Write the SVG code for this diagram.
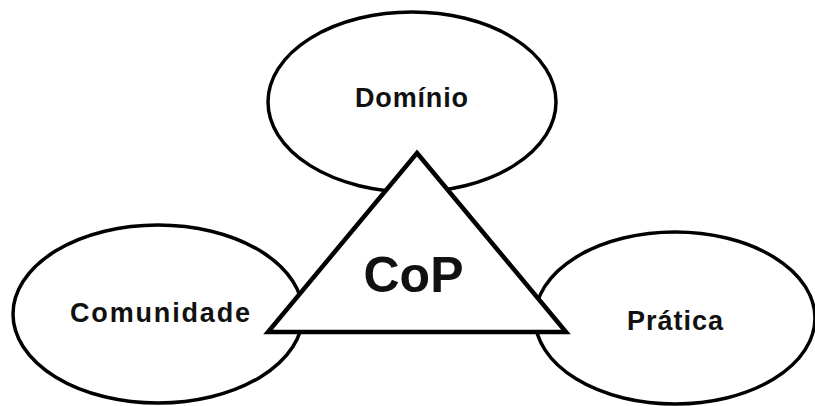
<svg xmlns="http://www.w3.org/2000/svg" width="815" height="406" viewBox="0 0 815 406">
<style>
.e{fill:#fff;stroke:#000;stroke-width:3.5}
.t{fill:#fff;stroke:#000;stroke-width:4.5;stroke-linejoin:miter}
.l{font-family:"Liberation Sans",Arial,sans-serif;font-weight:bold;font-size:27px;fill:#111;text-anchor:middle}
</style>
<rect width="815" height="406" fill="#fff"/>
<g id="dominio"><ellipse class="e" cx="412" cy="102" rx="144" ry="90"/><text class="l" x="411.5" y="107" textLength="113" lengthAdjust="spacing">Domínio</text></g>
<g id="comunidade"><ellipse class="e" cx="158" cy="314" rx="145" ry="89"/><text class="l" x="160" y="322" textLength="180" lengthAdjust="spacing">Comunidade</text></g>
<g id="pratica"><ellipse class="e" cx="675" cy="318" rx="140" ry="86"/><text class="l" x="675" y="330" textLength="96" lengthAdjust="spacing">Prática</text></g>
<g id="cop"><polygon class="t" points="417,153 566,332 268,332"/><text class="l" x="413.5" y="292" style="font-size:50px">CoP</text></g>
<g id="connectors"></g>
</svg>
